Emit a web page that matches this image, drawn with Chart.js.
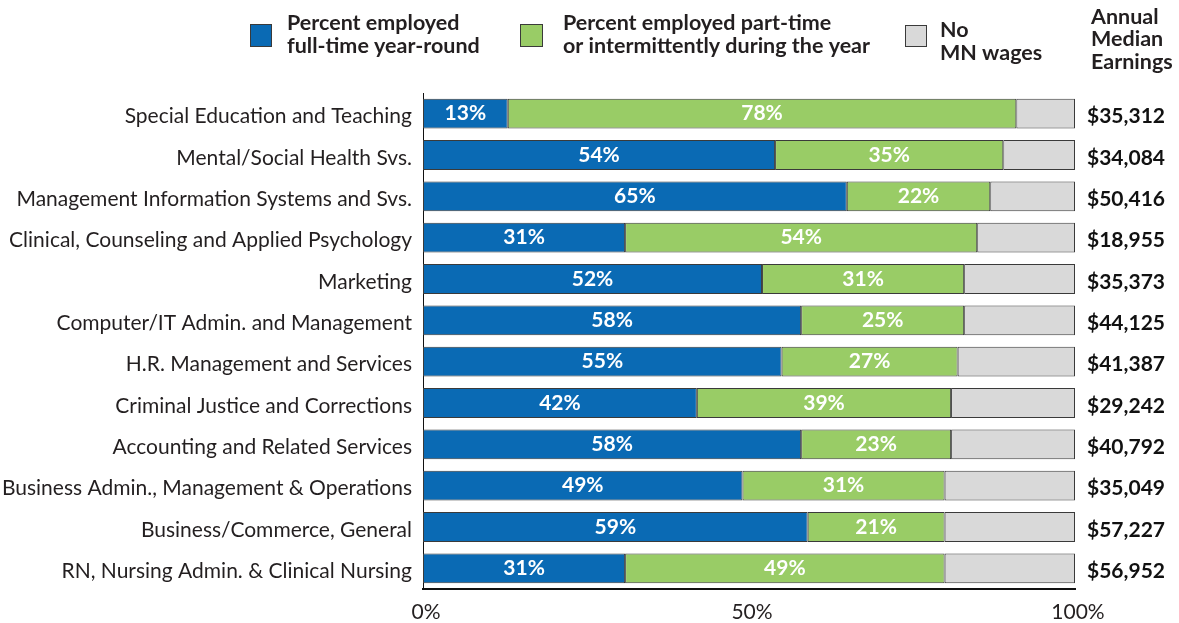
<!DOCTYPE html>
<html>
<head>
<meta charset="utf-8">
<script src="https://cdn.jsdelivr.net/npm/chart.js@4"></script>
<style>
  html,body{margin:0;padding:0;background:#fff;overflow:hidden;}
  #wrap{width:1179px;height:623px;position:relative;}
</style>
</head>
<body>
<div id="wrap"><canvas id="c" width="1179" height="623"></canvas></div>
<script>
// Datos
const categorias = [
  'Special Education and Teaching',
  'Mental/Social Health Svs.',
  'Management Information Systems and Svs.',
  'Clinical, Counseling and Applied Psychology',
  'Marketing',
  'Computer/IT Admin. and Management',
  'H.R. Management and Services',
  'Criminal Justice and Corrections',
  'Accounting and Related Services',
  'Business Admin., Management & Operations',
  'Business/Commerce, General',
  'RN, Nursing Admin. & Clinical Nursing'
];
const fullTime = [13, 54, 65, 31, 52, 58, 55, 42, 58, 49, 59, 31];
const partTime = [78, 35, 22, 54, 31, 25, 27, 39, 23, 31, 21, 49];
const noWages  = [9, 11, 13, 15, 17, 17, 18, 19, 19, 20, 20, 20];
const ganancias = ['$35,312','$34,084','$50,416','$18,955','$35,373','$44,125','$41,387','$29,242','$40,792','$35,049','$57,227','$56,952'];
const ticksX = {0:'0%', 50:'50%', 100:'100%'};

const AZUL = '#0a6ab4', VERDE = '#99cc66', GRIS = '#d9d9d9', BORDE = '#3a3a3a';
const FONT = 'Lato, "Open Sans", sans-serif';

// Etiquetas dentro de barras + ganancias + leyenda
const extras = {
  id: 'extras',
  afterDatasetsDraw(chart){
    const ctx = chart.ctx;
    ctx.save();
    ctx.font = 'bold 21px ' + FONT;
    ctx.fillStyle = '#fff';
    ctx.textAlign = 'center'; ctx.textBaseline = 'middle';
    [0,1].forEach(di=>{
      const meta = chart.getDatasetMeta(di);
      const data = chart.data.datasets[di].data;
      meta.data.forEach((bar,i)=>{
        const {x, base, y} = bar.getProps(['x','base','y'], true);
        ctx.fillText(data[i] + '%', (x+base)/2, y);
      });
    });
    // ganancias
    const ys = chart.scales.y;
    ctx.fillStyle = '#111';
    ctx.textAlign = 'left';
    ctx.font = 'bold 21px ' + FONT;
    ganancias.forEach((g,i)=>{
      ctx.fillText(g, 1087, ys.getPixelForValue(i)+3);
    });
    // leyenda
    const cuadro = (x,y,w,h,c)=>{
      ctx.fillStyle=c; ctx.fillRect(x,y,w,h);
      ctx.strokeStyle=BORDE; ctx.lineWidth=1; ctx.strokeRect(x+0.5,y+0.5,w-1,h-1);
    };
    cuadro(250,24,22,23,AZUL);
    cuadro(520,24,23,23,VERDE);
    cuadro(905,25,22,22,GRIS);
    ctx.fillStyle='#231f20';
    ctx.font = 'bold 21.5px ' + FONT;
    ctx.fillText('Percent employed', 287, 23);
    ctx.fillText('full-time year-round', 287, 46);
    ctx.fillText('Percent employed part-time', 563, 23);
    ctx.fillText('or intermittently during the year', 563, 46);
    ctx.fillText('No', 940, 30);
    ctx.fillText('MN wages', 940, 53);
    ctx.fillText('Annual', 1091, 17);
    ctx.fillText('Median', 1091, 39);
    ctx.fillText('Earnings', 1091, 62);
    ctx.restore();
  }
};

new Chart(document.getElementById('c').getContext('2d'), {
  type: 'bar',
  data: {
    labels: categorias,
    datasets: [
      {label:'Percent employed full-time year-round', data: fullTime, backgroundColor: AZUL},
      {label:'Percent employed part-time or intermittently during the year', data: partTime, backgroundColor: VERDE},
      {label:'No MN wages', data: noWages, backgroundColor: GRIS}
    ].map(d=>({...d, borderColor: BORDE, borderWidth: 1, borderSkipped: false, barPercentage: 0.72, categoryPercentage: 1}))
  },
  options: {
    indexAxis: 'y',
    responsive: false,
    animation: false,
    layout: { padding: { left: 0, right: 104, top: 93, bottom: 0 } },
    plugins: { legend: { display: false }, tooltip: { enabled: false } },
    scales: {
      x: {
        stacked: true, min: 0, max: 100,
        grid: { display: false, drawTicks: false },
        border: { display: true, color: '#111', width: 2 },
        afterBuildTicks: s => { s.ticks = [0,50,100].map(v=>({value:v})); },
        afterFit: s => { s.height = 34; },
        ticks: { color: '#231f20', font: { family: FONT, size: 21 }, padding: 11, labelOffset: 3, callback: v => ticksX[v] }
      },
      y: {
        stacked: true,
        grid: { display: false, drawTicks: false },
        border: { display: true, color: '#111', width: 1 },
        afterFit: s => { s.width = 423; },
        ticks: { color: '#231f20', font: { family: FONT, size: 21 }, padding: 11, labelOffset: 3 }
      }
    }
  },
  plugins: [extras]
});
</script>
</body>
</html>
